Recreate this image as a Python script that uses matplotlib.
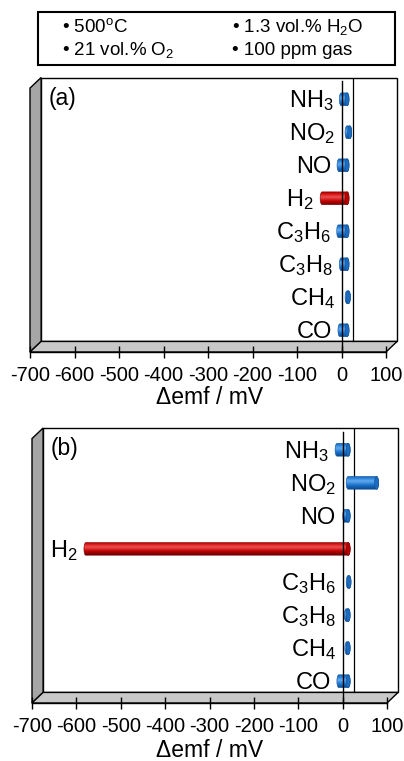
import numpy as np
import matplotlib
matplotlib.use('Agg')
import matplotlib.pyplot as plt
from matplotlib.patches import Polygon, Rectangle, Ellipse, PathPatch
from matplotlib.path import Path
from matplotlib.colors import LinearSegmentedColormap

plt.rcParams['font.family'] = ['Liberation Sans', 'DejaVu Sans']
plt.rcParams['mathtext.fontset'] = 'custom'
plt.rcParams['mathtext.rm'] = 'Liberation Sans'
plt.rcParams['mathtext.it'] = 'Liberation Sans:italic'
plt.rcParams['axes.unicode_minus'] = False

# gases from bottom to top
gases = ['CO', r'CH$_\mathrm{4}$', r'C$_\mathrm{3}$H$_\mathrm{8}$', r'C$_\mathrm{3}$H$_\mathrm{6}$',
         r'H$_\mathrm{2}$', 'NO', r'NO$_\mathrm{2}$', r'NH$_\mathrm{3}$']
emf_a = [-16, 3, -13, -19, -56, -18, 6, -13]     # mV, panel (a)
emf_b = [-21, -3, -4, 2, -591, -8, 64, -25]      # mV, panel (b)
highlight = [False, False, False, False, True, False, False, False]
xticks = [-700, -600, -500, -400, -300, -200, -100, 0, 100]
conditions = [r'• 500$^\mathrm{o}$C', r'• 1.3 vol.% H$_\mathrm{2}$O',
              r'• 21 vol.% O$_\mathrm{2}$', '• 100 ppm gas']

W, H = 404, 761
XMIN, XMAX = -700, 100
DX, DY = 25, 0.32          # 3d depth offset (mV, category units)
CAP = 9                    # cylinder end cap width, mV
BAR_H = 0.39

blue_cm = LinearSegmentedColormap.from_list('b', [(0, '#0d4a90'), (0.3, '#1a72cc'), (0.62, '#62aaee'),
                                                  (0.85, '#2680d8'), (1, '#1a64b4')])
red_cm = LinearSegmentedColormap.from_list('r', [(0, '#6a0000'), (0.3, '#c00000'), (0.62, '#ee5050'),
                                                 (0.85, '#d81414'), (1, '#a80000')])


def cylinder(ax, v, y, red):
    x0 = DX / 2 + min(v, 0)
    x1 = DX / 2 + max(v, 0)
    h = BAR_H
    t = np.linspace(np.pi / 2, 3 * np.pi / 2, 30)
    left = np.column_stack([x0 + CAP / 2 * np.cos(t), y + h / 2 * np.sin(t)])
    t2 = np.linspace(-np.pi / 2, np.pi / 2, 30)
    right = np.column_stack([x1 + CAP / 2 * np.cos(t2), y + h / 2 * np.sin(t2)])
    verts = np.vstack([left, right, left[:1]])
    edge = '#7a0000' if red else '#104e96'
    outline = PathPatch(Path(verts), fc='none', ec=edge, lw=0.4, zorder=4)
    ax.add_patch(outline)
    grad = np.linspace(0, 1, 64).reshape(-1, 1)
    im = ax.imshow(grad, extent=[x0 - CAP / 2, x1 + CAP / 2, y - h / 2, y + h / 2], origin='lower',
                   cmap=red_cm if red else blue_cm, aspect='auto', zorder=3, interpolation='bilinear')
    im.set_clip_path(outline)
    ax.add_patch(Ellipse((x1, y), CAP, h, fc='#b80000' if red else '#1c6cc0', ec=edge, lw=0.4, zorder=4))


def panel(left, right, top, bottom, vals, tag):
    # left/right: pixel of -700 and 100 on front plane; top: back plane top; bottom: front axis line
    px_per_mv = (right - left) / (XMAX - XMIN)
    ax = plt.gcf().add_axes([left / W, 1 - bottom / H, (right - left + DX * px_per_mv) / W, (bottom - top) / H])
    yf0 = -0.5 - DY / 2
    yb1 = 7.5 + DY / 2
    yb0 = yf0 + DY
    yf1 = yb1 - DY
    kw = dict(ec='black', lw=1.0, clip_on=False)
    ax.add_patch(Rectangle((XMIN + DX, yb0), XMAX - XMIN, yb1 - yb0, fc='white', zorder=0, **kw))
    ax.add_patch(Polygon([(XMIN, yf0), (XMIN, yf1), (XMIN + DX, yb1), (XMIN + DX, yb0)],
                         fc='#a6a6a6', zorder=1, **kw))
    ax.add_patch(Polygon([(XMIN, yf0), (XMAX, yf0), (XMAX + DX, yb0), (XMIN + DX, yb0)],
                         fc='#c8c8c8', zorder=1, **kw))
    ax.plot([DX, DX], [yb0, yb1], color='black', lw=0.9, zorder=2)

    for i, (v, g, red) in enumerate(zip(vals, gases, highlight)):
        cylinder(ax, v, i, red)
        ax.annotate(g, xy=(DX / 2 + min(v, -10) - CAP / 2, i), xytext=(-6, -8), textcoords='offset pixels',
                    ha='right', va='baseline', fontsize=17, zorder=5)

    ax.plot([0, 0], [yf0, 7.55], color='black', lw=1.0, zorder=6, clip_on=False)
    ax.text(0.05, 0.925, tag, transform=ax.transAxes, fontsize=16.5, va='center', ha='left')

    ax.set_xlim(XMIN, XMAX + DX)
    ax.set_ylim(yf0, yb1)
    for s in ['left', 'right', 'top']:
        ax.spines[s].set_visible(False)
    ax.spines['bottom'].set_bounds(XMIN, XMAX)
    ax.spines['bottom'].set_linewidth(1.0)
    ax.spines['bottom'].set_zorder(7)
    ax.set_yticks([])
    ax.set_xticks(xticks)
    ax.tick_params(axis='x', direction='inout', length=8, width=1.0, pad=6, labelsize=14.5)
    ax.patch.set_visible(False)
    return ax


fig = plt.figure(figsize=(W / 100, H / 100), dpi=100)

# conditions box
fig.add_artist(Rectangle((38 / W, 1 - 65 / H), 357 / W, 53 / H, transform=fig.transFigure,
                         fc='white', ec='black', lw=1.5))
fig.text(62 / W, 1 - 32 / H, conditions[0], fontsize=13.5, va='baseline')
fig.text(232 / W, 1 - 32 / H, conditions[1], fontsize=13.5, va='baseline')
fig.text(62 / W, 1 - 55 / H, conditions[2], fontsize=13.5, va='baseline')
fig.text(232 / W, 1 - 55 / H, conditions[3], fontsize=13.5, va='baseline')

panel(30, 386, 77.5, 352, emf_a, '(a)')
fig.text(210 / W, 1 - 404 / H, 'Δemf / mV', fontsize=16.5, ha='center', va='baseline')
panel(32, 387, 428, 703, emf_b, '(b)')
fig.text(210 / W, 1 - 757 / H, 'Δemf / mV', fontsize=16.5, ha='center', va='baseline')

fig.savefig('out.png', dpi=100)
